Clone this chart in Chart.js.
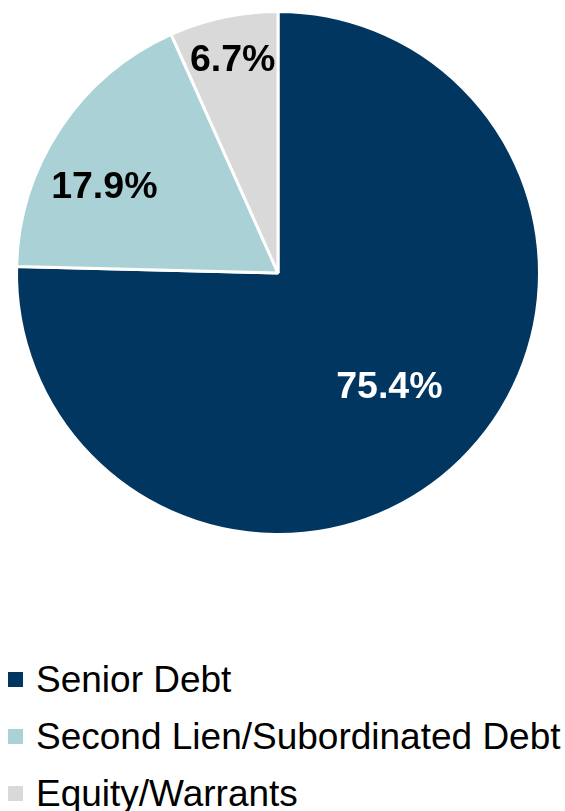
<!DOCTYPE html>
<html>
<head>
<meta charset="utf-8">
<script src="https://cdn.jsdelivr.net/npm/chart.js@4/dist/chart.umd.min.js"></script>
<style>
  html, body { margin: 0; padding: 0; background: #fff; }
  #wrap { position: relative; width: 565px; height: 811px; }
  #box { position: absolute; left: 0; top: 0; width: 565px; height: 548px; }
  #legend { position: absolute; left: 8px; top: 651px; font-family: "Liberation Sans", Arial, sans-serif; font-size: 37px; color: #000; }
  #legend .item { display: flex; align-items: center; height: 57px; white-space: nowrap; }
  #legend .sw { width: 15px; height: 15px; margin-right: 13px; flex: none; }
</style>
</head>
<body>
<div id="wrap">
  <div id="box"><canvas id="chart1"></canvas></div>
  <div id="legend"></div>
</div>
<script>
var labels = ['Senior Debt', 'Second Lien/Subordinated Debt', 'Equity/Warrants'];
var values = [75.4, 17.9, 6.7];
var colors = ['#003660', '#AAD1D5', '#D9D9D9'];
var labelColors = ['#ffffff', '#000000', '#000000'];
// label placement: fraction of radius, angle nudge in degrees
var labelRadius = [0.61, 0.74, 0.83];
var labelNudge = [0, -7.5, 0];

var pctLabels = {
  id: 'pctLabels',
  afterDatasetsDraw: function(chart) {
    var ctx = chart.ctx;
    var meta = chart.getDatasetMeta(0);
    ctx.save();
    ctx.font = 'bold 37.5px "Liberation Sans", Arial, sans-serif';
    ctx.textAlign = 'center';
    ctx.textBaseline = 'middle';
    meta.data.forEach(function(arc, i) {
      var mid = (arc.startAngle + arc.endAngle) / 2 + labelNudge[i] * Math.PI / 180;
      var r = arc.outerRadius * labelRadius[i];
      ctx.fillStyle = labelColors[i];
      ctx.fillText(values[i].toFixed(1) + '%', arc.x + Math.cos(mid) * r, arc.y + Math.sin(mid) * r);
    });
    ctx.restore();
  }
};

const ctx = document.getElementById('chart1');
new Chart(ctx, {
  type: 'pie',
  data: {
    labels: labels,
    datasets: [{
      data: values,
      backgroundColor: colors,
      borderColor: '#ffffff',
      borderWidth: 3
    }]
  },
  options: {
    responsive: true,
    maintainAspectRatio: false,
    animation: false,
    layout: { padding: { left: 15, right: 24, top: 10, bottom: 12 } },
    plugins: {
      legend: { display: false },
      tooltip: { enabled: false }
    }
  },
  plugins: [pctLabels]
});

var ele = [];
for (var i = 0; i < labels.length; i++) {
  ele.push('<div class="item"><span class="sw" style="background:' + colors[i] + '"></span>' + labels[i] + '</div>');
}
document.getElementById('legend').innerHTML = ele.join('');
</script>
</body>
</html>
